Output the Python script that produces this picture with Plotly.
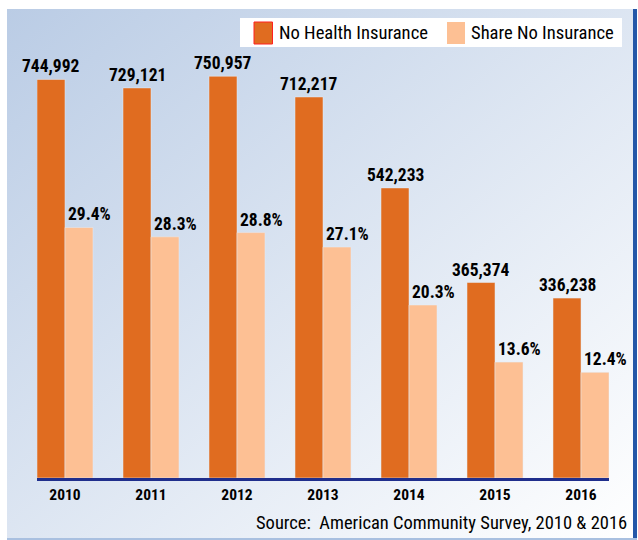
import base64
import plotly.graph_objects as go

years = ["2010", "2011", "2012", "2013", "2014", "2015", "2016"]
uninsured = [744992, 729121, 750957, 712217, 542233, 365374, 336238]
share_pct = [29.4, 28.3, 28.8, 27.1, 20.3, 13.6, 12.4]
series_names = ["No Health Insurance", "Share No Insurance"]
source_text = "Source:  American Community Survey, 2010 & 2016"

ORANGE = "#E06C20"
PEACH = "#FDC094"
NAVY = "#1F2E8C"
FONT = "Roboto Condensed, Open Sans Condensed, Liberation Sans Narrow, sans-serif"

W, H = 638, 540
ML, MR, MT, MB = 37, 29, 40, 62
PW, PH = W - ML - MR, H - MT - MB

BARGAP = 0.349
HALF = (1 - BARGAP) / 2  # width of one bar in category units


def px(x):
    return (x - ML) / PW


def py(y):
    return (H - MB - y) / PH


fig = go.Figure()
fig.add_trace(go.Bar(x=years, y=uninsured, name=series_names[0], marker_color=ORANGE,
                     offsetgroup="a", yaxis="y", showlegend=False))
fig.add_trace(go.Bar(x=years, y=share_pct, name=series_names[1], marker_color=PEACH,
                     offsetgroup="b", yaxis="y2", showlegend=False))

annotations = []
for i, v in enumerate(uninsured):
    annotations.append(dict(x=i - HALF / 2, y=v, xref="x", yref="y", text=f"{v:,}", showarrow=False,
                            xanchor="center", yanchor="bottom", yshift=1,
                            font=dict(family=FONT, size=17.5, color="black", weight="bold")))
for i, v in enumerate(share_pct):
    annotations.append(dict(x=i, y=v, xref="x", yref="y2", text=f"{v:.1f}%", showarrow=False,
                            xanchor="left", yanchor="bottom", xshift=1, yshift=1,
                            font=dict(family=FONT, size=17.5, color="black", weight="bold")))

# source
annotations.append(dict(x=px(629), y=py(523), xref="paper", yref="paper", text=source_text,
                        showarrow=False, xanchor="right", yanchor="middle",
                        font=dict(family=FONT, size=18.5, color="black")))
# manual legend texts
annotations.append(dict(x=px(277), y=py(33), xref="paper", yref="paper", text=series_names[0],
                        showarrow=False, xanchor="left", yanchor="middle",
                        font=dict(family=FONT, size=18.6, color="black")))
annotations.append(dict(x=px(469), y=py(33), xref="paper", yref="paper", text=series_names[1],
                        showarrow=False, xanchor="left", yanchor="middle",
                        font=dict(family=FONT, size=18.6, color="black")))

shapes = [
    # legend box
    dict(type="rect", xref="paper", yref="paper", x0=px(240), x1=px(622), y0=py(47), y1=py(18),
         fillcolor="white", line=dict(width=0), layer="below"),
    dict(type="rect", xref="paper", yref="paper", x0=px(254), x1=px(272.5), y0=py(44), y1=py(22),
         fillcolor=ORANGE, line=dict(color="#FF2020", width=1)),
    dict(type="rect", xref="paper", yref="paper", x0=px(447), x1=px(465), y0=py(44), y1=py(22),
         fillcolor=PEACH, line=dict(width=0)),
    # right blue edge
    dict(type="rect", xref="paper", yref="paper", x0=px(633), x1=px(637), y0=py(538), y1=py(9),
         fillcolor="#2457A8", line=dict(width=0), layer="below"),
    # bottom light edge
    dict(type="rect", xref="paper", yref="paper", x0=px(7), x1=px(637), y0=py(540), y1=py(538),
         fillcolor="#A9C0E0", line=dict(width=0), layer="below"),
]

svg = ("<svg xmlns='http://www.w3.org/2000/svg' width='626' height='529' viewBox='0 0 626 529' "
       "preserveAspectRatio='none'><defs><linearGradient id='g' x1='0' y1='0' x2='1' y2='1'>"
       "<stop offset='0' stop-color='#BACCE5'/><stop offset='1' stop-color='#FFFFFF'/>"
       "</linearGradient></defs><rect width='626' height='529' fill='url(#g)'/></svg>")
src = "data:image/svg+xml;base64," + base64.b64encode(svg.encode()).decode()

fig.update_layout(
    width=W, height=H,
    margin=dict(l=ML, r=MR, t=MT, b=MB, autoexpand=False),
    paper_bgcolor="white", plot_bgcolor="rgba(0,0,0,0)",
    barmode="group", bargap=BARGAP, bargroupgap=0,
    showlegend=False,
    annotations=annotations, shapes=shapes,
    images=[dict(source=src, xref="paper", yref="paper", x=px(7), y=py(9),
                 sizex=px(633) - px(7), sizey=py(9) - py(538), sizing="stretch",
                 xanchor="left", yanchor="top", layer="below")],
    xaxis=dict(type="category", range=[-HALF, len(years) - 1 + HALF], showline=True,
               linecolor=NAVY, linewidth=3, ticks="", showgrid=False, zeroline=False,
               automargin=False,
               tickfont=dict(family=FONT, size=15.5, color="black", weight="bold")),
    yaxis=dict(range=[0, 818700], visible=False, showgrid=False),
    yaxis2=dict(range=[0, 51.4], overlaying="y", visible=False, showgrid=False),
)

fig.write_html("out.html", config={"displayModeBar": False},
               post_script="document.body.style.margin='0';")
